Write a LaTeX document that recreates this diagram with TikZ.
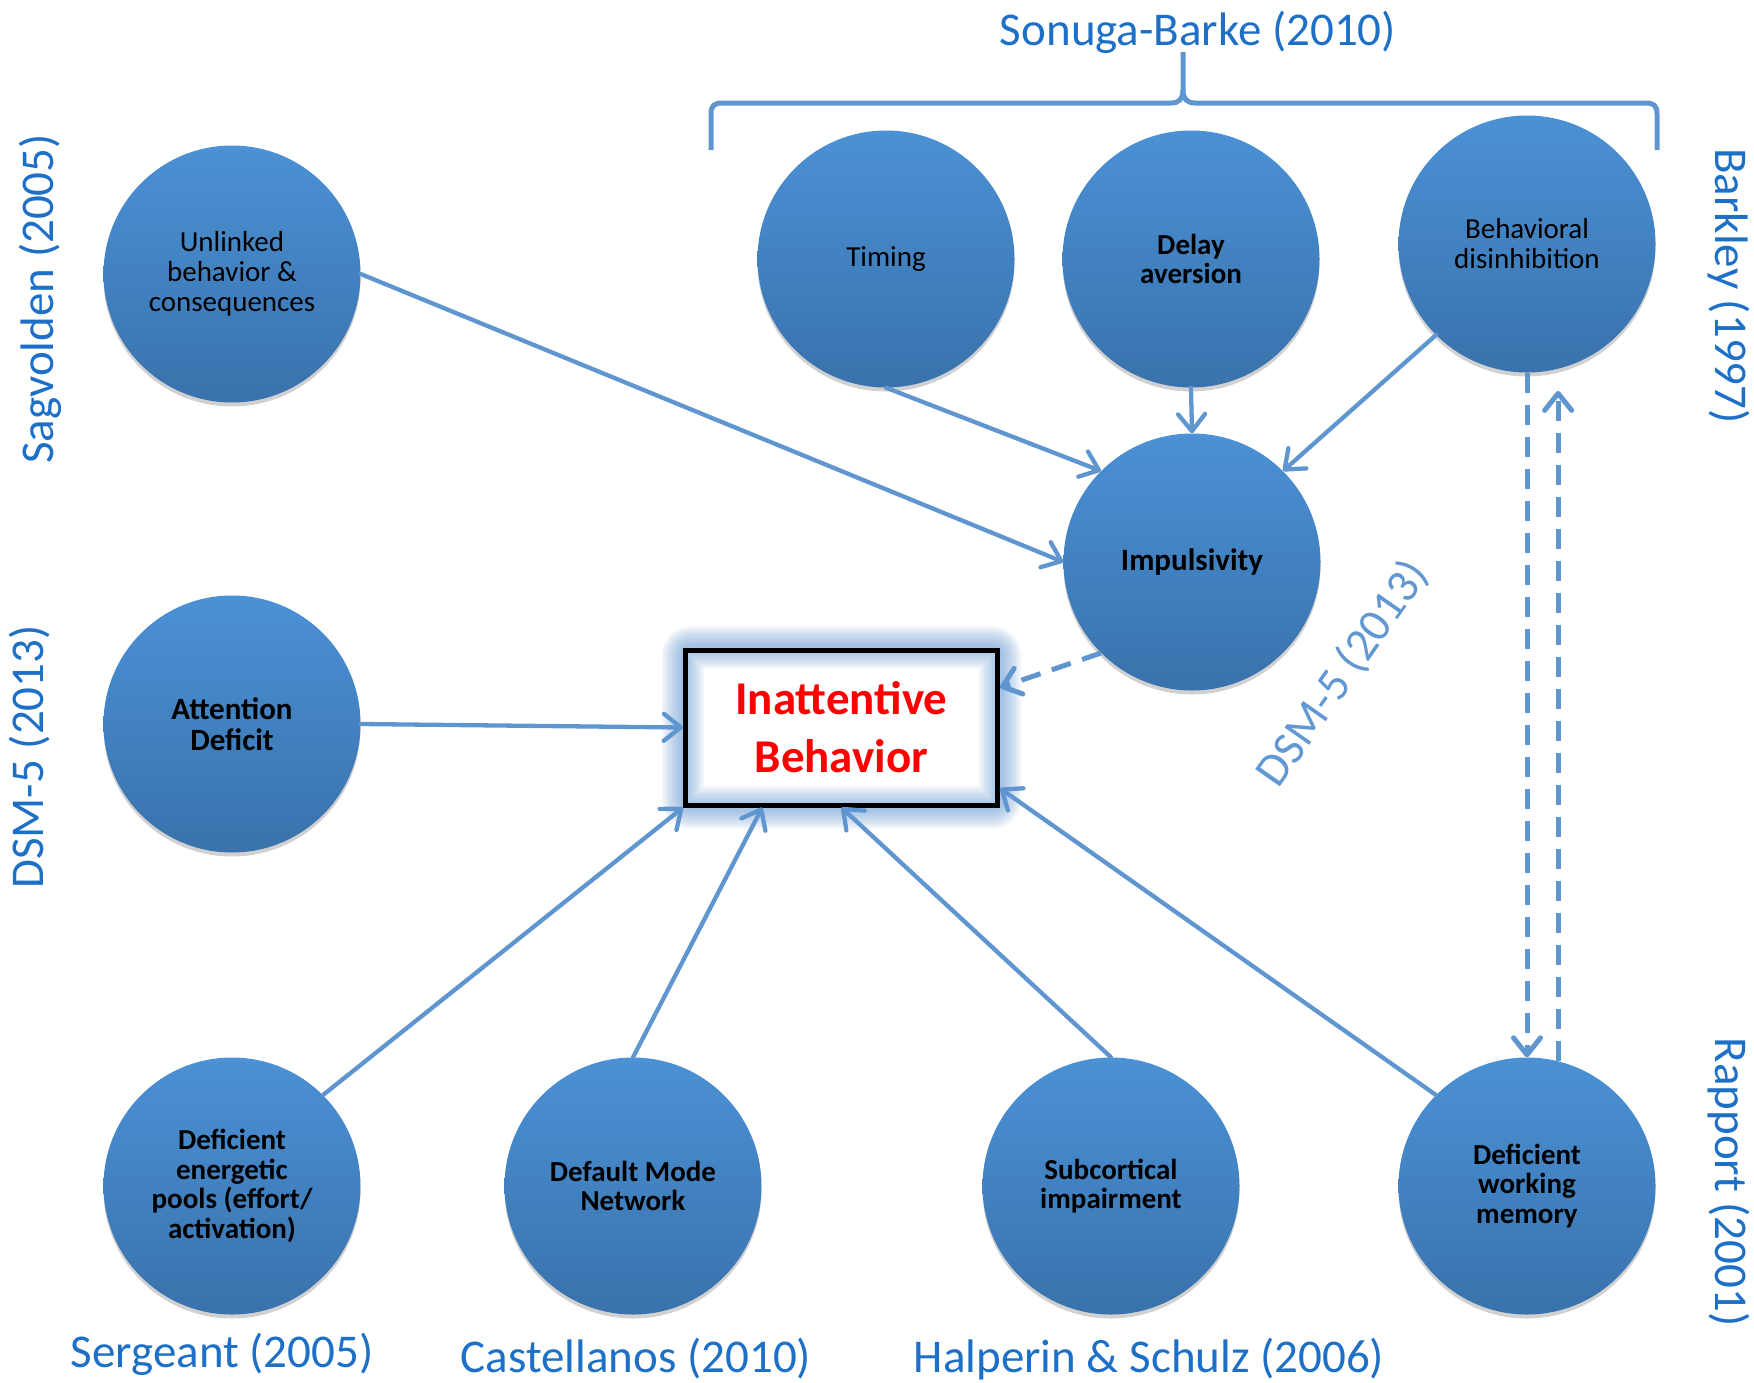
\documentclass[tikz,border=0pt]{standalone}
\usepackage{fontspec}
\setmainfont{Carlito}
\usetikzlibrary{arrows.meta,calc,shadows,backgrounds}

\definecolor{nodetop}{RGB}{75,145,213}
\definecolor{nodebot}{RGB}{57,114,172}
\definecolor{linkblue}{RGB}{96,150,207}
\definecolor{citeblue}{RGB}{30,112,198}
\definecolor{citelight}{RGB}{98,152,210}
\definecolor{glowblue}{RGB}{90,143,205}

\tikzset{
  factor/.style={circle, minimum size=257pt, inner sep=0pt, shading=axis,
    top color=nodetop, bottom color=nodebot, align=center, text=black,
    font=\fontsize{29}{30}\selectfont,
    drop shadow={shadow xshift=0pt, shadow yshift=-4pt, opacity=0.18, fill=black}},
  boldfactor/.style={factor, font=\fontsize{29}{29.5}\selectfont\bfseries},
  bigfactor/.style={factor, font=\fontsize{31}{31.5}\selectfont\bfseries},
  tip/.style={-{Straight Barb[length=17pt,width=27pt,round]}},
  link/.style={draw=linkblue, line width=4.3pt, line cap=round, tip},
  dlink/.style={draw=linkblue, line width=5pt, dash pattern=on 20pt off 12pt, tip},
  cite/.style={text=citeblue, font=\fontsize{47}{52}\selectfont, inner sep=0pt},
  brace/.style={draw=linkblue, line width=5pt, line join=round, line cap=butt},
  target/.style={draw=black, line width=5pt, minimum width=312pt, minimum height=155pt,
    align=center, text=red, font=\fontsize{47}{58}\selectfont\bfseries},
}

\begin{document}
\begin{tikzpicture}[x=1pt,y=-1pt]
\useasboundingbox (0,0) rectangle (1754,1382);

% factor circles
\node[factor]     (unl) at (232,274)  {Unlinked\\behavior \&\\consequences};
\node[factor]     (tim) at (886,259)  {Timing};
\node[boldfactor] (del) at (1191,259) {Delay\\aversion};
\node[factor]     (beh) at (1527,244) {Behavioral\\disinhibition};
\node[bigfactor]  (imp) at (1192,562) {Impulsivity};
\node[bigfactor]  (att) at (232,724)  {Attention\\Deficit};
\node[boldfactor] (ene) at (232,1186) {Deficient\\energetic\\pools (effort/\\activation)};
\node[boldfactor] (dmn) at (633,1186) {Default Mode\\Network};
\node[boldfactor] (sub) at (1111,1186) {Subcortical\\impairment};
\node[boldfactor] (wm)  at (1527,1186) {Deficient\\working\\memory};

% central outcome box with a soft blue glow
\node[target] (box) at (841.5,727.5) {Inattentive\\Behavior};
\begin{scope}[on background layer]
  \foreach \w in {42,37,32,27,22,17,12,8}
    \draw[glowblue, line width=\w pt, opacity=0.09, rounded corners=8pt]
      (box.north west) rectangle (box.south east);
\end{scope}

% connectors
\draw[link] (unl.east) -- (imp.west);
\draw[link] (tim.south) -- (imp.north west);
\draw[link] (del.south) -- (imp.north);
\draw[link] (beh.south west) -- (imp.north east);
\draw[dlink] (imp.south west) -- ($(box.north east)!0.25!(box.south east)$);
\draw[link] (att.east) -- (box.west);
\draw[link] (ene.north east) -- (box.south west);
\draw[link] (dmn.north) -- ($(box.south west)!0.25!(box.south east)$);
\draw[link] (sub.north) -- (box.south);
\draw[link] (wm.north west) -- ($(box.north east)!0.88!(box.south east)$);

% reciprocal dashed links between disinhibition and working memory
\coordinate (upend) at ($(beh.284)+(0,22)$);
\draw[dlink] (beh.south) -- (wm.north);
\draw[dlink] (wm.76) -- (upend);

% brace grouping the three delay-related factors
\draw[brace] (711,150) -- (711,114) .. controls (711,106) and (714,103) .. (722,103)
  -- (1171,103) .. controls (1179,103) and (1183,99) .. (1183,90) -- (1183,52);
\draw[brace] (1657,150) -- (1657,114) .. controls (1657,106) and (1654,103) .. (1646,103)
  -- (1195,103) .. controls (1187,103) and (1183,99) .. (1183,90);

% citations
\node[cite, anchor=base] (sonuga) at (1198,45) {Sonuga-Barke (2010)};
\node[cite, rotate=90, anchor=base] (sagv) at (53,299) {Sagvolden (2005)};
\node[cite, rotate=90, anchor=base] (dsml) at (43,757) {DSM-5 (2013)};
\node[cite, rotate=-90, anchor=base] (bark) at (1715,286) {Barkley (1997)};
\node[cite, rotate=-90, anchor=base] (rapp) at (1715,1182) {Rapport (2001)};
\node[cite, text=citelight, rotate=55] (dsmd) at (1343,674) {DSM-5 (2013)};
\node[cite, anchor=base] (serg) at (222,1367) {Sergeant (2005)};
\node[cite, anchor=base] (cast) at (636,1372) {Castellanos (2010)};
\node[cite, anchor=base] (halp) at (1149,1372) {Halperin \& Schulz (2006)};
\end{tikzpicture}
\end{document}
